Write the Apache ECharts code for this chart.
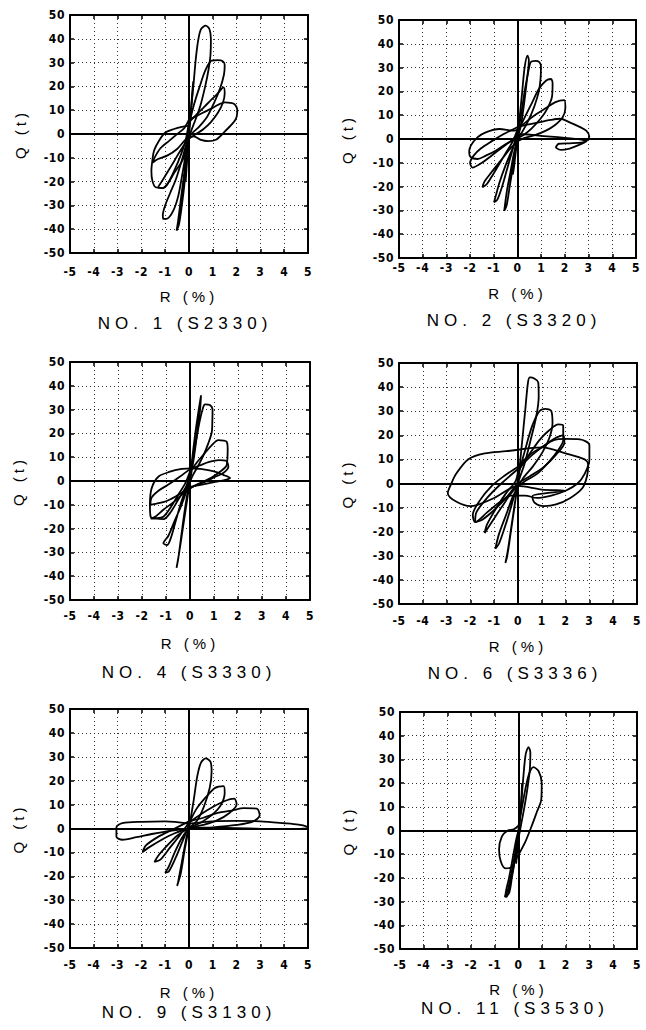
<!DOCTYPE html>
<html>
<head>
<meta charset="utf-8">
<script src="https://cdn.jsdelivr.net/npm/echarts@6/dist/echarts.min.js"></script>
<style>
  html, body { margin: 0; padding: 0; background: #fff; }
  #chart { width: 646px; height: 1030px; }
</style>
</head>
<body>
<div id="chart"></div>
<script>
// axis ranges (R in %, Q in t)
const rMin = -5, rMax = 5, rStep = 1;
const qMin = -50, qMax = 50, qStep = 10;

const panelTitles = ['NO. 1 (S2330)', 'NO. 2 (S3320)', 'NO. 4 (S3330)', 'NO. 6 (S3336)', 'NO. 9 (S3130)', 'NO. 11 (S3530)'];

// hysteresis loops, [R, Q]
const no1Loops = [
  [[0,0],[0.07,8],[0.14,18],[0.18,22],[0.12,14],[0.04,4],[-0.04,-5],[-0.1,-14],[-0.14,-20],[-0.1,-12],[-0.03,-3],[0,0]],
  [[0,2],[0.1,12],[0.2,22],[0.28,31],[0.38,39],[0.5,44],[0.7,45.5],[0.86,44],[0.92,40],[0.9,33],[0.82,27],[0.68,20],[0.48,12],[0.27,6],[0.05,0],[-0.1,-8],[-0.22,-18],[-0.35,-28],[-0.45,-36],[-0.52,-40.6],[-0.42,-38],[-0.3,-30],[-0.18,-20],[-0.08,-9],[0,2]],
  [[0,4],[0.2,12],[0.45,20],[0.7,27],[0.95,30.8],[1.2,31],[1.42,30.6],[1.5,29],[1.47,25],[1.3,19],[1.05,13],[0.75,7],[0.42,3],[0.1,0],[-0.1,-4],[-0.3,-11],[-0.55,-19],[-0.8,-25],[-1.0,-30],[-1.1,-34],[-1.08,-35.7],[-0.9,-35.5],[-0.65,-32],[-0.45,-26],[-0.3,-18],[-0.15,-9],[0,4]],
  [[0,5],[0.3,8],[0.6,11],[0.9,14],[1.2,17],[1.45,19.6],[1.5,17],[1.42,13],[1.22,9],[0.92,5],[0.6,2],[0.3,0],[0,-2],[-0.3,-6],[-0.6,-11],[-0.9,-16],[-1.15,-20],[-1.3,-22.5],[-1.1,-22.7],[-0.9,-21],[-0.6,-15],[-0.35,-9],[-0.15,-3],[0,5]],
  [[0,6],[0.5,8.5],[1.0,11],[1.5,13.3],[1.9,12.6],[2.03,10],[1.95,6],[1.5,1],[1.15,-2.3],[0.8,-3],[0.5,-2.5],[0.2,-1],[-0.1,-2],[-0.5,-6.3],[-0.9,-9],[-1.3,-10.5],[-1.52,-12],[-1.45,-10],[-1.2,-6],[-0.85,-3],[-0.5,0],[-0.2,2.5],[0,6]],
  [[0,3.5],[-0.3,3],[-0.63,2.1],[-0.98,0.7],[-1.26,-2.8],[-1.47,-7],[-1.54,-11.2],[-1.58,-15.4],[-1.54,-19.6],[-1.4,-22.4],[-1.12,-22.7],[-0.91,-21],[-0.6,-16],[-0.28,-11.2],[-0.07,-5.6],[0,-2]]
];

const no2Loops = [
  [[0,0],[0.1,10],[0.2,20],[0.3,30],[0.42,35],[0.48,33],[0.4,25],[0.28,15],[0.15,6],[0,0],[-0.08,-6],[-0.15,-12],[-0.2,-15],[-0.12,-9],[-0.04,-3],[0,0]],
  [[0,2],[0.15,10],[0.3,20],[0.45,28],[0.56,32.3],[0.75,32.8],[0.92,32.3],[0.99,30.5],[0.97,25],[0.9,20],[0.72,14],[0.47,8],[0.2,3],[0,0],[-0.15,-6],[-0.3,-14],[-0.45,-22],[-0.56,-30.2],[-0.46,-28],[-0.33,-20],[-0.2,-12],[-0.1,-5],[0,2]],
  [[0,3],[0.3,9],[0.6,15],[0.9,21],[1.2,24.5],[1.41,25.2],[1.48,23.5],[1.46,18],[1.27,13],[0.97,8.5],[0.6,4.5],[0.3,2],[0,0],[-0.25,-5],[-0.5,-11],[-0.75,-18],[-0.92,-24],[-0.99,-26.6],[-0.85,-25.5],[-0.65,-20],[-0.45,-13],[-0.25,-6],[0,3]],
  [[0,4],[0.4,7.5],[0.8,10.5],[1.2,13],[1.6,15.5],[1.97,16.3],[2.02,13],[1.9,9],[1.6,6],[1.2,3.5],[0.7,1.5],[0.3,0.5],[0,-1],[-0.3,-4],[-0.7,-9],[-1.1,-14],[-1.4,-18],[-1.48,-20.3],[-1.3,-19],[-1.1,-16],[-0.8,-11],[-0.5,-6],[-0.2,-1],[0,4]],
  [[0,5],[0.4,6],[0.9,7],[1.4,8],[1.8,8.5],[2.2,7],[2.6,5.2],[2.9,3.5],[3.03,1],[2.9,-1],[2.6,-2.5],[2.2,-4],[1.85,-4.6],[1.62,-3.5],[1.75,-2],[2.2,-1.8],[2.7,-1.5],[2.9,-0.8],[2.5,0],[2.0,0.5],[1.4,1],[0.8,1.5],[0.3,2],[0,1.5],[-0.3,-1],[-0.7,-4],[-1.1,-7],[-1.5,-10],[-1.9,-12],[-2.0,-10],[-1.85,-7],[-1.55,-4],[-1.1,-1],[-0.6,2],[-0.2,4],[0,5]],
  [[0,4],[-0.14,3.5],[-0.77,4.2],[-1.34,2.8],[-1.69,0.7],[-1.97,-2.8],[-2.04,-5.6],[-1.97,-7.7],[-1.69,-8.4],[-1.34,-7],[-0.92,-4.9],[-0.49,-2.1],[-0.21,-0.7],[0,0]]
];

const no4Loops = [
  [[0,0],[0.1,10],[0.22,20],[0.35,29],[0.46,36],[0.42,30],[0.3,20],[0.15,9],[0,0],[-0.15,-10],[-0.3,-20],[-0.45,-30],[-0.56,-36.5],[-0.48,-32],[-0.35,-22],[-0.2,-11],[-0.05,-2],[0,0]],
  [[0,3],[0.2,14],[0.4,25],[0.55,31],[0.63,32.2],[0.83,31.9],[0.94,29.8],[0.93,25],[0.91,20.7],[0.77,16],[0.57,11],[0.32,6],[0.1,2],[-0.1,-3],[-0.35,-10],[-0.65,-17],[-0.9,-23],[-1.11,-26.2],[-0.95,-26.9],[-0.8,-24],[-0.6,-17],[-0.4,-10],[-0.2,-4],[0,3]],
  [[0,4],[0.3,8],[0.6,11.5],[0.9,15],[1.18,17.2],[1.4,17],[1.53,16.5],[1.57,13.7],[1.53,6.7],[1.25,3.9],[0.9,1.5],[0.5,-0.5],[0.1,-2.5],[-0.3,-5.5],[-0.7,-9],[-1.1,-12],[-1.45,-15],[-1.64,-15.8],[-1.46,-15.7],[-1.11,-15],[-0.8,-11],[-0.5,-6],[-0.2,-1],[0,4]],
  [[0,5],[0.4,6.5],[0.8,8],[1.2,8.8],[1.5,8.5],[1.6,6],[1.4,3.5],[1.0,1.5],[0.6,-0.5],[0.2,-2],[-0.2,-4],[-0.6,-6.5],[-1.0,-8.5],[-1.4,-9.5],[-1.65,-10],[-1.6,-7],[-1.3,-4],[-0.9,-1.5],[-0.4,2],[0,5]],
  [[0,5.3],[0.5,5],[1.0,4],[1.4,2.5],[1.67,1.3],[1.4,0.3],[1.0,-0.5],[0.5,-1.5],[0,-2.5]],
  [[0,5.3],[-0.4,5],[-0.83,3.9],[-1.32,1.8],[-1.6,-3.1],[-1.67,-10.1],[-1.64,-15],[-1.46,-15.7],[-1.1,-16],[-0.8,-13],[-0.5,-8],[-0.2,-3],[0,0]]
];

const no6Loops = [
  [[0,0],[0.15,15],[0.3,30],[0.42,42],[0.5,44],[0.7,43.5],[0.85,42],[0.87,36],[0.77,28],[0.53,18],[0.27,8],[0,0],[-0.15,-10],[-0.3,-20],[-0.45,-30],[-0.53,-33],[-0.43,-28],[-0.28,-18],[-0.13,-8],[0,0]],
  [[0,3],[0.3,14],[0.6,24],[0.9,30],[1.15,31],[1.4,30],[1.45,25],[1.32,19],[1.03,13],[0.62,7],[0.2,2],[-0.2,-5],[-0.5,-13],[-0.8,-21],[-0.95,-27],[-0.8,-25],[-0.55,-18],[-0.3,-10],[-0.05,-1],[0,3]],
  [[0,5],[0.4,11],[0.9,18],[1.3,22],[1.7,24.5],[1.9,24],[1.9,18],[1.7,14],[1.3,9],[0.8,4],[0.3,1],[-0.2,-3],[-0.7,-10],[-1.1,-16],[-1.4,-20.5],[-1.3,-17],[-0.9,-10],[-0.5,-4],[-0.1,1],[0,5]],
  [[0,6],[0.5,11],[1.0,15],[1.5,18.5],[1.9,20],[1.95,17],[1.6,12],[1.1,7],[0.5,3],[0,0],[-0.5,-6],[-1.0,-11],[-1.5,-15],[-1.8,-16],[-1.75,-12],[-1.3,-6],[-0.7,0],[0,6]],
  [[0,7],[0.5,12],[1.0,15],[1.5,18],[2.0,18.5],[2.6,18.3],[3.0,16],[3.0,10],[2.8,4],[2.5,0],[2.0,-3],[1.4,-5],[0.8,-6],[0.3,-5],[-0.3,-5],[-0.8,-8],[-1.3,-12],[-1.8,-16],[-1.9,-13],[-1.6,-7],[-1.1,-1],[-0.6,3],[0,7]],
  [[0,14],[1.0,15],[2.0,12.5],[2.8,10],[2.95,8],[2.9,3],[2.7,-2],[2.2,-6],[1.6,-8.7],[1.1,-9.4],[0.7,-8],[0.6,-5.3],[1.2,-4],[2.0,-3],[1.0,-2.5],[0,-1],[-1.0,-6],[-2.0,-9.4],[-2.6,-7.5],[-2.95,-4],[-2.8,0],[-2.6,4],[-2.1,10],[-1.4,12.5],[-0.5,13.4],[0,14]]
];

const no9Loops = [
  [[0,0],[0.2,12],[0.35,22],[0.5,27.5],[0.7,29.3],[0.9,28],[0.95,24],[0.87,17],[0.62,9],[0.32,3],[0,0],[-0.15,-6],[-0.3,-14],[-0.45,-22],[-0.5,-24],[-0.35,-19],[-0.2,-10],[-0.05,-2],[0,0]],
  [[0,2],[0.3,8],[0.7,13],[1.1,17],[1.45,17.7],[1.5,15],[1.35,10],[1.0,6],[0.5,2.5],[0,0],[-0.3,-4],[-0.6,-10],[-0.85,-16],[-1.0,-18.5],[-0.85,-18],[-0.55,-12],[-0.3,-6],[-0.1,-1],[0,2]],
  [[0,2.5],[0.5,6],[1.0,9],[1.5,11.5],[1.9,12.5],[2.0,10],[1.7,6.5],[1.2,3.5],[0.6,1.5],[0,0],[-0.5,-3],[-0.9,-7],[-1.3,-11.5],[-1.45,-14],[-1.2,-13],[-0.8,-8],[-0.4,-3],[0,2.5]],
  [[0,3],[0.6,4.5],[1.2,6.5],[1.8,7.5],[2.3,8.5],[2.85,8.3],[2.97,5.5],[2.7,3],[2.0,1.5],[1.0,0.5],[0,0],[-0.6,-2],[-1.2,-5],[-1.7,-8],[-1.95,-9.8],[-1.8,-7],[-1.3,-3.5],[-0.7,-0.5],[0,3]],
  [[0,2],[1.0,3],[2.0,3.2],[3.0,3],[4.0,2.2],[4.6,1.6],[4.95,0.8],[5.0,0.2],[4.5,-0.2],[3.5,-0.2],[2.5,0],[1.5,0.2],[0.5,0.3],[0,0],[-0.8,-1],[-1.5,-2.2],[-2.2,-3.6],[-2.8,-4.7],[-3.05,-3.5],[-3.05,0.5],[-2.8,2.2],[-2.0,2.8],[-1.0,3],[0,2]]
];

const no11Loops = [
  [[0,0],[0.1,10],[0.2,22],[0.3,32],[0.42,35.2],[0.5,33],[0.48,26],[0.38,18],[0.25,10],[0.1,2],[-0.05,-6],[-0.2,-15],[-0.35,-22],[-0.5,-28],[-0.55,-27.5],[-0.4,-20],[-0.25,-12],[-0.1,-4],[0,0]],
  [[0,2],[0.15,10],[0.3,18],[0.45,24],[0.63,26.7],[0.85,25],[0.98,20],[0.96,13],[0.77,7.7],[0.56,2],[0.3,-4.5],[0.07,-9],[-0.1,-12],[-0.3,-15.5],[-0.55,-16],[-0.75,-13],[-0.82,-8],[-0.7,-2.5],[-0.45,0],[-0.2,0.5],[0,2]],
  [[0,0],[-0.15,-10],[-0.3,-18],[-0.45,-25],[-0.58,-28],[-0.4,-26.5],[-0.28,-20],[-0.15,-12],[0,-2]],
  [[0,0],[0.1,10],[0.15,20],[0.12,12],[0.05,3],[-0.05,-5],[-0.1,-14],[-0.05,-8],[0,0]]
];

const panelLoops = [no1Loops, no2Loops, no4Loops, no6Loops, no9Loops, no11Loops];

// plot boxes and text placement, in pixels
const layout = [
  { left: 70, top: 15, width: 238, height: 238, labelMargin: 13, nameGap: 36, yNameGap: 42, capX: 185, capY: 323 },
  { left: 399, top: 20, width: 237, height: 238, labelMargin: 4, nameGap: 28, yNameGap: 44, capX: 514, capY: 320 },
  { left: 70, top: 362, width: 240, height: 238, labelMargin: 10, nameGap: 36, yNameGap: 44, capX: 189, capY: 672 },
  { left: 399, top: 363, width: 238, height: 241, labelMargin: 11, nameGap: 35, yNameGap: 44, capX: 515, capY: 673 },
  { left: 70, top: 709, width: 238, height: 239, labelMargin: 11, nameGap: 37, yNameGap: 44, capX: 189, capY: 1012 },
  { left: 400, top: 712, width: 237, height: 237, labelMargin: 10, nameGap: 33, yNameGap: 44, capX: 515, capY: 1008 }
];

const tickFont = "'Liberation Sans Narrow', 'DejaVu Sans Condensed', 'Liberation Sans', sans-serif";
const textFont = "'Liberation Sans', Arial, sans-serif";
const black = '#000';

const grid = [], xAxis = [], yAxis = [], series = [], graphic = [];

layout.forEach((p, i) => {
  grid.push({ left: p.left, top: p.top, width: p.width, height: p.height, containLabel: false, outerBoundsMode: 'none' });

  const frame = { show: true, onZero: false, lineStyle: { color: black, width: 2 } };
  const ticks = { show: true, inside: true, length: 4, lineStyle: { color: black, width: 1.5 } };
  const dots = { show: true, lineStyle: { color: '#333', width: 1, type: [1, 3] } };
  const labelStyle = { color: black, fontFamily: tickFont, fontWeight: 'bold', fontSize: 12 };

  xAxis.push({
    type: 'value', gridIndex: i, position: 'bottom', min: rMin, max: rMax, interval: rStep,
    axisLine: frame, axisTick: ticks, splitLine: dots,
    axisLabel: Object.assign({ margin: p.labelMargin }, labelStyle),
    name: 'R (%)', nameLocation: 'middle', nameGap: p.nameGap,
    nameTextStyle: { color: black, fontFamily: textFont, fontSize: 15 }
  });
  xAxis.push({
    type: 'value', gridIndex: i, position: 'top', min: rMin, max: rMax, interval: rStep,
    axisLine: frame, axisTick: ticks, splitLine: { show: false }, axisLabel: { show: false }
  });
  yAxis.push({
    type: 'value', gridIndex: i, position: 'left', min: qMin, max: qMax, interval: qStep,
    axisLine: frame, axisTick: ticks, splitLine: dots,
    axisLabel: Object.assign({ margin: 5 }, labelStyle),
    name: 'Q (t)', nameLocation: 'middle', nameGap: p.yNameGap, nameRotate: 90,
    nameTextStyle: { color: black, fontFamily: textFont, fontSize: 15 }
  });
  yAxis.push({
    type: 'value', gridIndex: i, position: 'right', min: qMin, max: qMax, interval: qStep,
    axisLine: frame, axisTick: ticks, splitLine: { show: false }, axisLabel: { show: false }
  });

  panelLoops[i].forEach((loop, k) => {
    const s = {
      type: 'line', xAxisIndex: 2 * i, yAxisIndex: 2 * i, data: loop,
      smooth: 0.3, showSymbol: false, symbol: 'none', clip: true,
      lineStyle: { color: '#000', width: 1.8 }
    };
    if (k === 0) {
      s.markLine = {
        silent: true, symbol: 'none', label: { show: false },
        lineStyle: { color: black, width: 2, type: 'solid' },
        data: [{ xAxis: 0 }, { yAxis: 0 }]
      };
    }
    series.push(s);
  });

  graphic.push({
    type: 'text', x: p.capX, y: p.capY,
    style: {
      text: panelTitles[i], fill: black, font: '17px ' + textFont,
      textAlign: 'center', textVerticalAlign: 'middle', align: 'center', verticalAlign: 'middle'
    }
  });
});

const dom = document.getElementById('chart');
const chart = echarts.init(dom, null, { renderer: 'svg' });
chart.setOption({
  animation: false,
  backgroundColor: '#fff',
  grid: grid,
  xAxis: xAxis,
  yAxis: yAxis,
  series: series,
  graphic: graphic
});

// spread the plotter-style lettering
function spaceText() {
  dom.querySelectorAll('text').forEach(t => {
    const s = t.textContent;
    let ls = 0.6;
    if (s.indexOf('NO.') === 0) ls = 5;
    else if (s === 'R (%)' || s === 'Q (t)') ls = 4;
    t.style.letterSpacing = ls + 'px';
  });
}
chart.on('finished', spaceText);
spaceText();
setTimeout(spaceText, 30);
</script>
</body>
</html>
